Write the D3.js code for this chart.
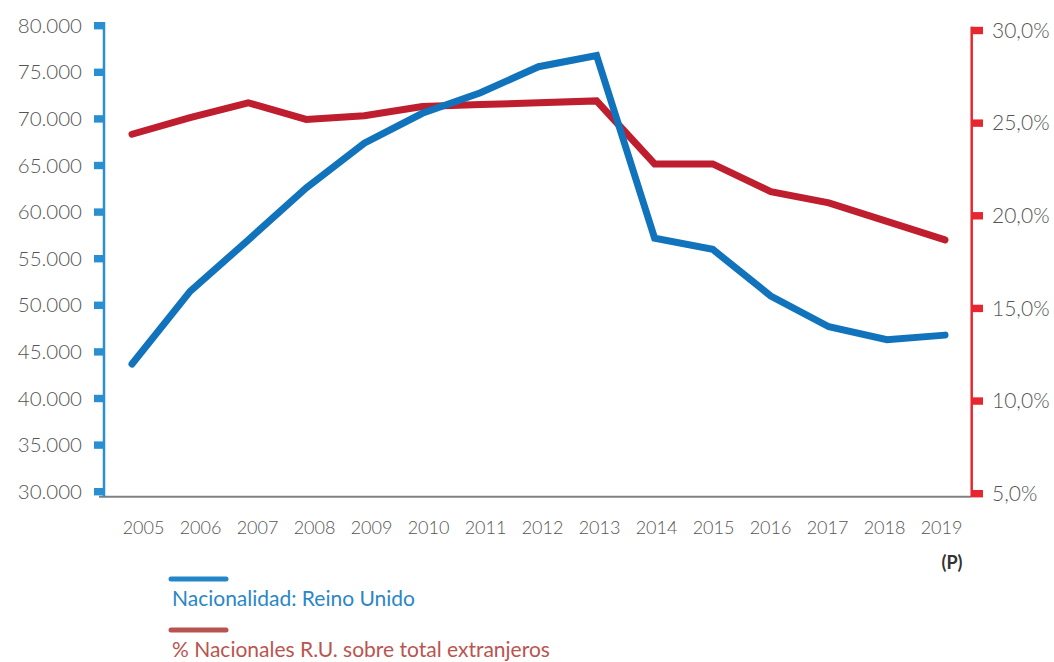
<!DOCTYPE html>
<html>
<head>
<meta charset="utf-8">
<script src="https://cdn.jsdelivr.net/npm/d3@7"></script>
<style>
  body { margin: 0; background: #fff; }
  svg { display: block; font-family: Lato, "Open Sans", sans-serif; }
</style>
</head>
<body>
<svg id="chart" width="1054" height="662"></svg>
<script>
// ── Data ──
const years = ['2005','2006','2007','2008','2009','2010','2011','2012','2013','2014','2015','2016','2017','2018','2019'];
const ukNationals = [43700, 51500, 57000, 62600, 67400, 70600, 72800, 75600, 76800, 57200, 56000, 51000, 47700, 46300, 46800];
const ukShare = [24.4, 25.3, 26.1, 25.2, 25.4, 25.9, 26.0, 26.1, 26.2, 22.8, 22.8, 21.3, 20.7, 19.7, 18.7];
const leftTicks = [30000, 35000, 40000, 45000, 50000, 55000, 60000, 65000, 70000, 75000, 80000];
const rightTicks = [5, 10, 15, 20, 25, 30];
const legendLabels = ['Nacionalidad: Reino Unido', '% Nacionales R.U. sobre total extranjeros'];

const esLocale = d3.formatLocale({ decimal: ',', thousands: '.', grouping: [3], currency: ['', '€'] });
const fmtNum = esLocale.format(',');
const fmtRight = v => esLocale.format('.1f')(v) + '%';

const BLUE = '#1173bb', RED = '#be1e2d';
const AXIS_BLUE = '#2a8fd0', AXIS_RED = '#e8262f';

const svg = d3.select('#chart');

// ── Scales ──
const x = d3.scalePoint().domain(years).range([132, 945]);
const xLab = d3.scalePoint().domain(years).range([143, 941]);
const yL = d3.scaleLinear().domain([30000, 80000]).range([491.7, 25.7]);
const yR = d3.scaleLinear().domain([5, 30]).range([493.7, 30.5]);

// ── Axes ──
// bottom baseline
svg.append('line')
  .attr('x1', 99).attr('x2', 971).attr('y1', 496.7).attr('y2', 496.7)
  .attr('stroke', '#808080').attr('stroke-width', 2);

// left axis
const gL = svg.append('g').attr('transform', 'translate(104,0)')
  .call(d3.axisLeft(yL).tickValues(leftTicks).tickSize(0).tickPadding(22).tickFormat(fmtNum));
gL.select('.domain').remove();
gL.selectAll('text').attr('font-size', 20.5).attr('font-weight', 300).attr('fill', '#555')
  .attr('font-family', 'Lato, sans-serif');
svg.append('line')
  .attr('x1', 104).attr('x2', 104).attr('y1', 22).attr('y2', 497)
  .attr('stroke', AXIS_BLUE).attr('stroke-width', 2.5);
svg.selectAll('rect.tl').data(leftTicks).join('rect')
  .attr('class', 'tl')
  .attr('x', 94).attr('width', 11)
  .attr('y', d => yL(d) - 3.7).attr('height', 7.4)
  .attr('fill', AXIS_BLUE);

// right axis
const gR = svg.append('g').attr('transform', 'translate(972,0)')
  .call(d3.axisRight(yR).tickValues(rightTicks).tickSize(0).tickPadding(20).tickFormat(fmtRight));
gR.select('.domain').remove();
gR.selectAll('text').attr('font-size', 21).attr('font-weight', 300).attr('fill', '#555')
  .attr('font-family', 'Lato, sans-serif');
svg.append('line')
  .attr('x1', 971.7).attr('x2', 971.7).attr('y1', 26.7).attr('y2', 497)
  .attr('stroke', AXIS_RED).attr('stroke-width', 2.5);
svg.selectAll('rect.tr').data(rightTicks).join('rect')
  .attr('class', 'tr')
  .attr('x', 971).attr('width', 12)
  .attr('y', d => yR(d) - 3.7).attr('height', 7.4)
  .attr('fill', AXIS_RED);

// x labels
const gX = svg.append('g').attr('transform', 'translate(0,521)')
  .call(d3.axisBottom(xLab).tickSize(0).tickPadding(0));
gX.select('.domain').remove();
gX.selectAll('text').attr('font-size', 18).attr('font-weight', 300).attr('fill', '#555')
  .attr('font-family', 'Lato, sans-serif');

svg.append('text')
  .attr('x', 952).attr('y', 569)
  .attr('text-anchor', 'middle')
  .attr('font-size', 18).attr('font-weight', 700).attr('fill', '#333')
  .text('(P)');

// ── Lines ──
const lineL = d3.line().x((d, i) => x(years[i])).y(d => yL(d));
const lineR = d3.line().x((d, i) => x(years[i])).y(d => yR(d));

svg.append('path').datum(ukShare)
  .attr('d', lineR).attr('fill', 'none')
  .attr('stroke', RED).attr('stroke-width', 7)
  .attr('stroke-linecap', 'round').attr('stroke-linejoin', 'miter');

svg.append('path').datum(ukNationals)
  .attr('d', lineL).attr('fill', 'none')
  .attr('stroke', BLUE).attr('stroke-width', 7)
  .attr('stroke-linecap', 'round').attr('stroke-linejoin', 'miter');

// ── Legend ──
const legend = [
  { label: legendLabels[0], line: '#2286c8', text: '#2a86c6', y: 579 },
  { label: legendLabels[1], line: '#b85450', text: '#b9554f', y: 630 },
];
legend.forEach(l => {
  svg.append('line')
    .attr('x1', 171).attr('x2', 226).attr('y1', l.y).attr('y2', l.y)
    .attr('stroke', l.line).attr('stroke-width', 5).attr('stroke-linecap', 'round');
  svg.append('text')
    .attr('x', 172).attr('y', l.y + 27)
    .attr('font-size', 21).attr('fill', l.text)
    .attr('font-family', 'Lato, sans-serif')
    .text(l.label);
});
</script>
</body>
</html>
